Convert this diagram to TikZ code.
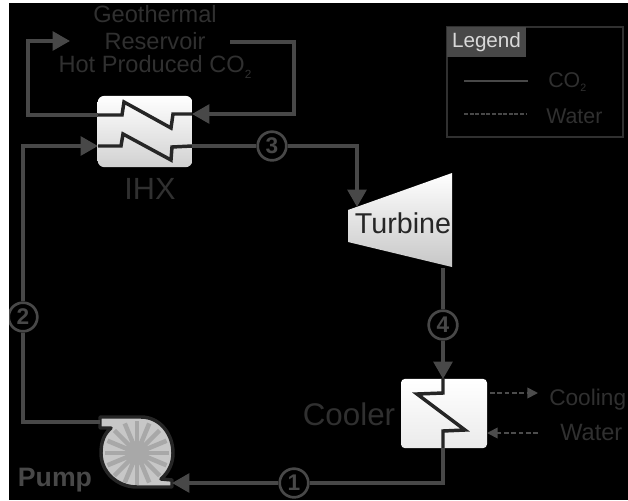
\documentclass[tikz,border=0pt]{standalone}
\usepackage{fontspec}
\setmainfont{Liberation Sans}
\usetikzlibrary{arrows.meta,calc}
\definecolor{flow}{HTML}{484848}
\definecolor{coil}{HTML}{262626}
\definecolor{dimtext}{HTML}{303030}
\definecolor{watercol}{HTML}{4C4C4C}
\newcommand{\subtwo}{\raisebox{-0.22em}{\scalebox{0.5}{2}}}
\tikzset{
 x=0.75pt,y=-0.75pt,
 pipe/.style={draw=flow,line width=2.7pt,line join=miter},
 pipeend/.style={pipe,-{Triangle[length=13pt,width=14pt,fill=flow]}},
 waterline/.style={draw=watercol,line width=1.3pt,dash pattern=on 3.5pt off 2pt,-{Triangle[length=8pt,width=8pt,fill=watercol]}},
 coilline/.style={draw=coil,line width=2.6pt,line join=miter},
 hx/.style={draw=none,rounded corners=5pt,inner sep=0pt,top color=white,bottom color=white!82!black},
 num/.style={circle,draw=flow,line width=2pt,minimum size=21.5pt,inner sep=0pt,fill=black,text=flow,font=\fontsize{17}{17}\selectfont\bfseries},
 lab/.style={text=dimtext,inner sep=0pt,align=center,font=\fontsize{17.7}{20}\selectfont},
 legtext/.style={text=dimtext,inner sep=0pt,anchor=west,font=\fontsize{16}{18}\selectfont},
}
\begin{document}
\begin{tikzpicture}
\useasboundingbox (0,0) rectangle (628,500);
\fill[white] (0,0) rectangle (628,500);
\fill[black] (9,3) rectangle (628,500);
\begin{scope}
\clip (9,3) rectangle (628,500);

% equipment
\node[hx,minimum width=71pt,minimum height=53.5pt] (ihx) at (145,131.5) {};
\node[hx,minimum width=64.5pt,minimum height=52pt,rounded corners=3pt,top color=white,bottom color=white!92!black] (cooler) at (444,413.5) {};
\path[top color=white,bottom color=white!78!black,draw=none] (348,210) coordinate (tInL) -- (452,173) -- (452,267) -- (348,242) -- cycle;
\node[text=coil,inner sep=0pt,font=\fontsize{21.5}{24}\selectfont] (turbine) at (403,223) {Turbine};
\coordinate (tIn) at (357,207);
\coordinate (tOut) at (443,268);

% pump
\coordinate (pumpC) at (137,453);
\draw[draw=coil,line width=2.6pt,fill=white!78!black,line join=round]
 (100,417) -- (141,417) .. controls (160,417) and (173,434) .. (173,453)
 .. controls (173,463) and (169,472) .. (161,479) -- (172,480) -- (172,487) -- (137,487)
 .. controls (117,487) and (101,472) .. (101,453)
 .. controls (101,442) and (104,434) .. (111,428) -- (100,428) -- cycle;
\foreach \a in {0,22.5,...,337.5}
 \draw[white!66!black,line width=3.4pt] (pumpC) -- ++(\a:32);
\fill[white!66!black] (pumpC) circle (12);
\coordinate (pOut) at (100,422);
\coordinate (pIn) at (172,483);

% anchors of the connectors
\coordinate (ihxTL) at (98,115);
\coordinate (ihxTR) at (192,114);
\coordinate (ihxBL) at (98,146);
\coordinate (ihxBR) at (192,146);
\coordinate (resOut) at (70,41);
\coordinate (resIn) at (230,42);
\coordinate (coolIn) at (443,379);
\coordinate (coolOut) at (443,448);

% coils
\draw[coilline] (ihxTL) -- (122,115) -- (124,102) -- (171,128) -- (173,114) -- (ihxTR);
\draw[coilline] (ihxBL) -- (121,146) -- (123,134) -- (171,160) -- (172,147) -- (ihxBR);
\draw[coilline] (coolIn) -- (443,393) -- (417,394) -- (465,430) -- (443,431) -- (coolOut);

% labels on the pipes
\node[num] (n3) at (272,146) {3};
\node[num] (n2) at (23,317) {2};
\node[num] (n4) at (443,325) {4};
\node[num] (n1) at (294,483) {1};

% CO2 pipes
\draw[pipeend] (ihxTL) -- (28,115) -- (28,41) -- (resOut);
\draw[pipeend] (resIn) -- (294,42) -- (294,114) -- (ihxTR);
\draw[pipe] (pOut) -- (23,422) -- (n2);
\draw[pipeend] (n2) -- (23,146) -- (ihxBL);
\draw[pipe] (ihxBR) -- (n3);
\draw[pipeend] (n3) -- (357,146) -- (tIn);
\draw[pipe] (tOut) -- (n4);
\draw[pipeend] (n4) -- (coolIn);
\draw[pipe] (coolOut) -- (443,483) -- (n1);
\draw[pipeend] (n1) -- (pIn);

% water
\coordinate (wOutS) at (490,393);
\coordinate (wOutE) at (538,393);
\coordinate (wInS) at (538,433);
\coordinate (wInE) at (487,433);
\draw[waterline] (wOutS) -- (wOutE);
\draw[waterline] (wInS) -- (wInE);

% texts
\node[lab] (geo) at (155,14) {Geothermal};
\node[lab] (res) at (155,41) {Reservoir};
\node[lab] (hot) at (155,67) {Hot Produced CO\subtwo};
\node[lab,font=\fontsize{23}{26}\selectfont] (ihxlab) at (150,189) {IHX};
\node[lab,font=\fontsize{23.5}{26}\selectfont] (coolab) at (349,414) {Cooler};
\node[lab,anchor=west,font=\fontsize{17}{20}\selectfont] (cool2) at (549,400) {Cooling};
\node[lab,anchor=west] (wat2) at (560,432) {Water};
\node[text=flow,inner sep=0pt,font=\fontsize{20}{22}\selectfont\bfseries] (pumplab) at (55,480) {Pump};

% legend
\draw[draw=dimtext,line width=1pt] (447,27) rectangle (623,137);
\node[fill=flow,minimum width=59.5pt,minimum height=22.5pt,inner sep=0pt,text=white!85!black,font=\fontsize{15.5}{18}\selectfont] (legend) at (486.5,42) {Legend};
\coordinate (lA) at (464,81); \coordinate (lB) at (528,81);
\coordinate (lC) at (464,114); \coordinate (lD) at (526,114);
\draw[flow,line width=2.2pt] (lA) -- (lB);
\draw[flow,line width=1.2pt,dash pattern=on 3pt off 1.2pt] (lC) -- (lD);
\node[legtext] (lco) at (548,82) {CO\subtwo};
\node[legtext] (lwa) at (546,116) {Water};
\end{scope}
\end{tikzpicture}
\end{document}
